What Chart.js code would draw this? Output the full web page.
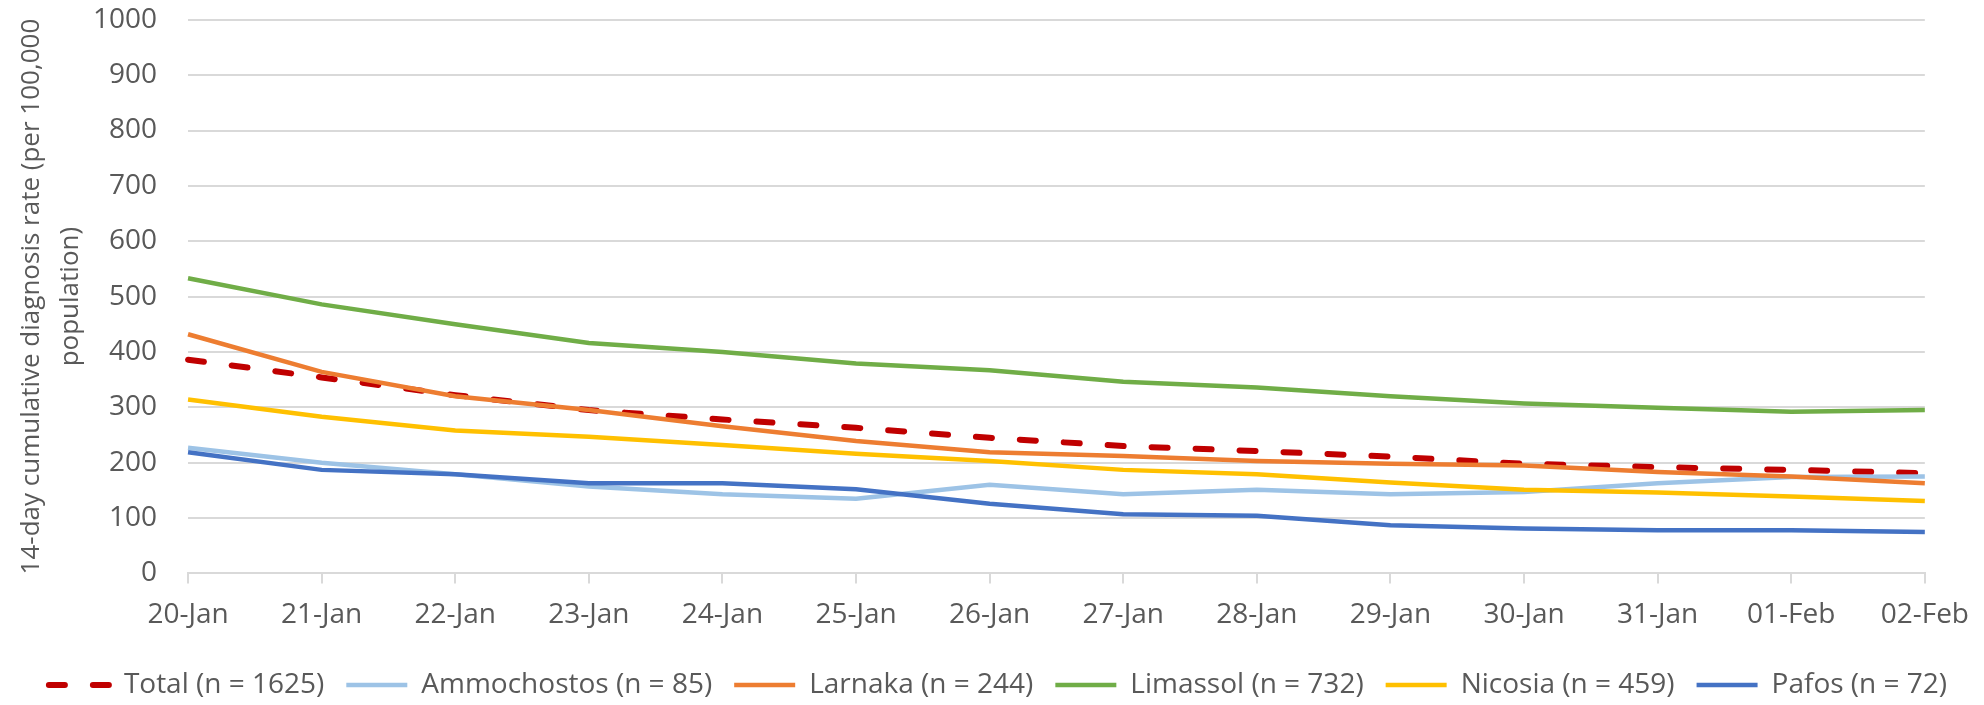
<!DOCTYPE html>
<html>
<head>
<meta charset="utf-8">
<script src="https://cdn.jsdelivr.net/npm/chart.js@4.4.1/dist/chart.umd.min.js"></script>
<style>
    html, body { margin: 0; padding: 0; background: #ffffff; }
    #wrap { width: 1984px; height: 705px; }
</style>
</head>
<body>
<div id="wrap"><canvas id="rateChart"></canvas></div>
<script>
// Data
const dates = ['20-Jan', '21-Jan', '22-Jan', '23-Jan', '24-Jan', '25-Jan', '26-Jan',
               '27-Jan', '28-Jan', '29-Jan', '30-Jan', '31-Jan', '01-Feb', '02-Feb'];
const total       = [386, 354, 322, 295, 278, 263, 245, 230, 221, 211, 198, 192, 187, 181];
const ammochostos = [227, 200, 179, 157, 143, 135, 160, 143, 151, 143, 147, 163, 174, 175];
const larnaka     = [432, 364, 320, 295, 266, 239, 219, 212, 203, 198, 195, 183, 175, 163];
const limassol    = [533, 486, 450, 416, 400, 379, 367, 346, 336, 320, 307, 299, 292, 295];
const nicosia     = [314, 283, 258, 247, 232, 216, 203, 187, 179, 164, 151, 146, 139, 131];
const pafos       = [219, 187, 179, 163, 163, 152, 126, 107, 104, 87, 81, 78, 78, 75];
const yTicks = [0, 100, 200, 300, 400, 500, 600, 700, 800, 900, 1000];

const textColor = '#595959';
const gridColor = '#d9d9d9';
Chart.defaults.font.family = "'Open Sans', 'Noto Sans', sans-serif";
Chart.defaults.font.size = 28;
Chart.defaults.color = textColor;

function line(label, data, color, order, extra) {
    return Object.assign({
        label: label,
        data: data,
        borderColor: color,
        backgroundColor: color,
        borderWidth: 4.5,
        pointRadius: 0,
        pointHoverRadius: 0,
        tension: 0,
        fill: false,
        pointStyle: 'line',
        order: order   // Excel draws later series on top
    }, extra || {});
}

const ctx = document.getElementById('rateChart').getContext('2d');
new Chart(ctx, {
    type: 'line',
    data: {
        labels: dates,
        datasets: [
            line('Total (n = 1625)', total, '#C00000', 6, { borderDash: [16, 28], borderWidth: 6, borderCapStyle: 'round' }),
            line('Ammochostos (n = 85)', ammochostos, '#9DC3E6', 5),
            line('Larnaka (n = 244)', larnaka, '#ED7D31', 4),
            line('Limassol (n = 732)', limassol, '#70AD47', 3),
            line('Nicosia (n = 459)', nicosia, '#FFC000', 2),
            line('Pafos (n = 72)', pafos, '#4472C4', 1)
        ]
    },
    options: {
        responsive: true,
        maintainAspectRatio: false,
        animation: false,
        layout: {
            padding: { left: 12, right: 0, top: 0, bottom: -4 }
        },
        scales: {
            x: {
                offset: false,
                grid: {
                    offset: false,
                    drawOnChartArea: false,
                    drawTicks: true,
                    tickLength: 10,
                    color: gridColor,
                    lineWidth: 2
                },
                border: { color: gridColor, width: 2 },
                ticks: { padding: 15, maxRotation: 0, autoSkip: false, color: textColor },
                // extra room between the date labels and the legend
                afterFit: function(scale) { scale.height += 2; }
            },
            y: {
                min: 0,
                max: 1000,
                afterBuildTicks: function(axis) {
                    axis.ticks = yTicks.map(v => ({ value: v }));
                },
                grid: {
                    color: gridColor,
                    lineWidth: 2,
                    drawTicks: true,
                    tickLength: 28,
                    tickColor: 'rgba(0,0,0,0)'
                },
                border: { display: false },
                ticks: {
                    padding: 3,
                    color: textColor,
                    callback: function(value) { return String(value); }
                },
                title: {
                    display: true,
                    text: ['14-day cumulative diagnosis rate (per 100,000', 'population)'],
                    color: textColor,
                    font: { size: 26, lineHeight: 1.5 },
                    padding: { top: 0, bottom: 0 }
                }
            }
        },
        plugins: {
            legend: {
                position: 'bottom',
                labels: {
                    usePointStyle: true,
                    pointStyleWidth: 61,
                    boxHeight: 28,
                    padding: 22,
                    color: textColor,
                    font: { size: 28 },
                    sort: (a, b) => a.datasetIndex - b.datasetIndex,
                    generateLabels: function(chart) {
                        const items = Chart.defaults.plugins.legend.labels.generateLabels(chart);
                        items.forEach(item => {
                            const ds = chart.data.datasets[item.datasetIndex];
                            item.lineDash = ds.borderDash || [];
                            item.lineWidth = ds.borderWidth;
                            item.lineCap = ds.borderCapStyle || 'butt';
                            item.strokeStyle = ds.borderColor;
                            item.pointStyle = 'line';
                        });
                        return items;
                    }
                }
            },
            tooltip: { enabled: false }
        }
    }
});
</script>
</body>
</html>
